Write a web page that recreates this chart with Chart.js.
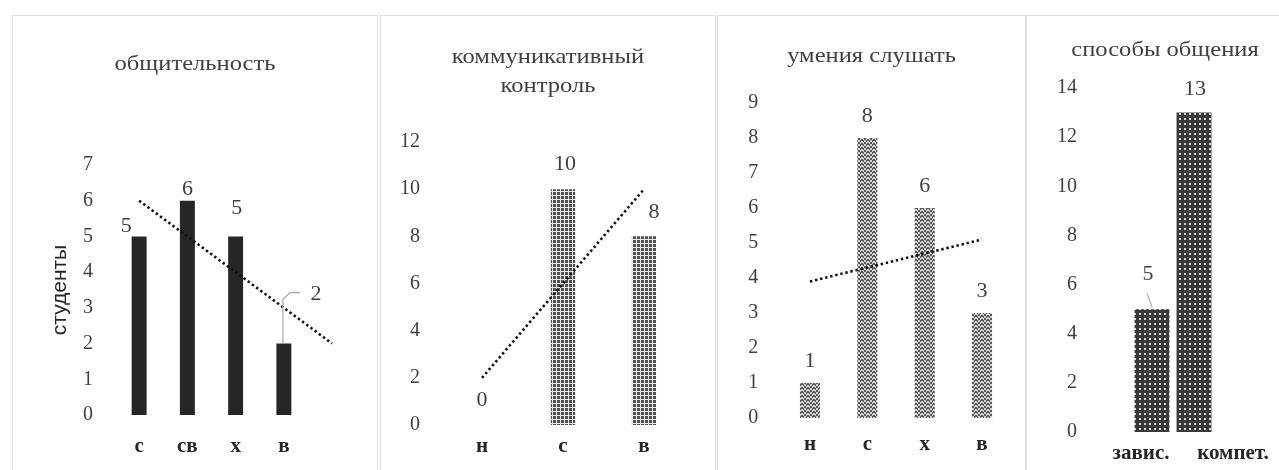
<!DOCTYPE html>
<html><head><meta charset="utf-8">
<script src="https://cdn.jsdelivr.net/npm/chart.js@4.4.1/dist/chart.umd.min.js"></script>
<style>
html,body{margin:0;padding:0;background:#fff;width:1279px;height:470px;overflow:hidden;position:relative}
.panel{position:absolute;top:15px;height:480px;border:1px solid #dedede;box-sizing:border-box;background:#fff}
.panel canvas{position:absolute;left:0;top:0}
</style></head><body>
<div class="panel" style="left:12px;width:366px"><canvas id="c1" width="364" height="454"></canvas></div>
<div class="panel" style="left:380px;width:336px"><canvas id="c2" width="334" height="454"></canvas></div>
<div class="panel" style="left:717px;width:309px"><canvas id="c3" width="307" height="454"></canvas></div>
<div class="panel" style="left:1026px;width:278px"><canvas id="c4" width="276" height="454"></canvas></div>
<script>
// ---- data ----
const title1 = ['общительность'];
const categories1 = ['с', 'св', 'х', 'в'];
const values1 = [5, 6, 5, 2];
const trendX1 = [0, 4];
const trendY1 = [6, 2];
const yMax1 = 7, yStep1 = 1;
const yTitle1 = 'студенты';

const title2 = ['коммуникативный', 'контроль'];
const categories2 = ['н', 'с', 'в'];
const values2 = [0, 10, 8];
const trendX2 = [0, 2];
const trendY2 = [2, 10];
const yMax2 = 12, yStep2 = 2;

const title3 = ['умения слушать'];
const categories3 = ['н', 'с', 'х', 'в'];
const values3 = [1, 8, 6, 3];
const trendX3 = [0, 3];
const trendY3 = [3.9, 5.1];
const yMax3 = 9, yStep3 = 1;

const title4 = ['способы общения'];
const categories4 = ['завис.', 'компет.'];
const values4 = [5, 13];
const yMax4 = 14, yStep4 = 2;

// ---- patterns ----
function tile(w, h, draw) {
  const c = document.createElement('canvas'); c.width = w; c.height = h;
  const g = c.getContext('2d'); draw(g);
  return document.createElement('canvas').getContext('2d').createPattern(c, 'repeat');
}
const patGrid = tile(4, 4, g => {
  g.fillStyle = '#505050'; g.fillRect(0, 0, 4, 4);
  g.fillStyle = '#e8e8e8'; g.fillRect(3, 0, 1, 4); g.fillRect(0, 3, 4, 1);
});
const patWave = tile(6, 4, g => {
  g.fillStyle = '#d4d4d4'; g.fillRect(0, 0, 6, 4);
  g.fillStyle = '#585858';
  g.fillRect(0, 0, 2, 1); g.fillRect(1, 1, 1, 1); g.fillRect(2, 2, 2, 1); g.fillRect(4, 1, 1, 1); g.fillRect(4, 0, 2, 1);
  g.fillRect(0, 3, 1, 1); g.fillRect(5, 3, 1, 1); g.fillRect(2, 3, 2, 1);
});
const patDots = tile(5, 5, g => {
  g.fillStyle = '#383838'; g.fillRect(0, 0, 5, 5);
  g.fillStyle = '#d8d8d8'; g.fillRect(2, 2, 2, 2);
});

// ---- plugins ----
const TXT = '#404040';
const serif = '"Liberation Serif", "Times New Roman", serif';

function stretchedText(ctx, t, x, y, sx) {
  ctx.save(); ctx.translate(x, y); ctx.scale(sx, 1); ctx.fillText(t, 0, 0); ctx.restore();
}
const panelTitle = {
  id: 'panelTitle',
  afterDraw(chart, args, opts) {
    const ctx = chart.ctx; ctx.save();
    ctx.font = opts.size + 'px ' + serif; ctx.fillStyle = TXT;
    ctx.textAlign = 'center'; ctx.textBaseline = 'middle';
    opts.lines.forEach((t, i) => stretchedText(ctx, t, chart.width / 2, opts.y + i * opts.lineGap, opts.sx));
    ctx.restore();
  }
};
const valueLabels = {
  id: 'valueLabels',
  afterDatasetsDraw(chart, args, opts) {
    const ctx = chart.ctx; ctx.save();
    ctx.font = opts.size + 'px ' + serif; ctx.fillStyle = TXT;
    ctx.textAlign = 'center'; ctx.textBaseline = 'middle';
    const meta = chart.getDatasetMeta(0);
    const vals = chart.data.datasets[0].data;
    meta.data.forEach((el, i) => {
      const dx = (opts.dx && opts.dx[i]) || 0;
      const dy = (opts.dy && opts.dy[i] != null) ? opts.dy[i] : opts.gap;
      stretchedText(ctx, String(vals[i]), el.x + dx, el.y + dy, opts.sx);
      const ld = opts.leaders && opts.leaders[i];
      if (ld) {
        ctx.beginPath(); ctx.strokeStyle = '#a6a6a6'; ctx.lineWidth = 1.2;
        ld.forEach((p, k) => k ? ctx.lineTo(el.x + p[0], el.y + p[1]) : ctx.moveTo(el.x + p[0], el.y + p[1]));
        ctx.stroke();
      }
    });
    ctx.restore();
  }
};
const shiftedXLabels = {
  id: 'shiftedXLabels',
  afterDraw(chart, args, opts) {
    if (!opts.dx) return;
    const sc = chart.scales.x, ctx = chart.ctx; ctx.save();
    ctx.font = 'bold ' + opts.size + 'px ' + serif; ctx.fillStyle = '#262626';
    ctx.textAlign = 'center'; ctx.textBaseline = 'middle';
    chart.data.labels.forEach((l, i) => ctx.fillText(l, sc.getPixelForValue(i) + opts.dx[i], opts.y));
    ctx.restore();
  }
};

// ---- chart builder ----
function build(id, o) {
  const H = 454;
  const xh = H - o.bottom - 2;
  const datasets = [{
    type: 'bar', data: o.values, backgroundColor: o.fill, borderWidth: 0, grouped: false,
    categoryPercentage: 1, barPercentage: o.barPct, order: 1, xAxisID: 'x', yAxisID: 'y'
  }];
  if (o.trendX) {
    datasets.push({
      type: 'line', xAxisID: 'xt', yAxisID: 'y', order: 0, clip: false,
      data: o.trendX.map((x, i) => ({x: x, y: o.trendY[i]})),
      borderColor: '#111', borderWidth: 2.6, borderDash: [2.4, 2.8], pointRadius: 0, fill: false, tension: 0
    });
  }
  const scales = {
    x: {
      type: 'category', offset: true,
      grid: {display: false, drawTicks: false}, border: {display: false},
      ticks: {display: !o.hideX, padding: o.xLabY - o.bottom - 12.6, color: '#262626',
              font: {family: serif, size: 21, weight: 'bold', lineHeight: 1.2}, maxRotation: 0, autoSkip: false},
      afterFit: s => { s.height = xh; }
    },
    y: {
      min: 0, max: o.yMax,
      grid: {display: false, drawTicks: false}, border: {display: false},
      ticks: {stepSize: o.yStep, padding: o.yPad, color: TXT, font: {family: serif, size: 20}},
      afterFit: s => { s.width = o.left; s.paddingTop = 14; s.paddingBottom = 14; },
      title: o.yTitle ? {display: true, text: o.yTitle, color: '#262626',
        font: {family: '"Liberation Sans", Arial, sans-serif', size: 21, lineHeight: 1.2}, padding: {top: 34.4, bottom: 0}} : {display: false}
    }
  };
  if (o.trendX) {
    scales.xt = {type: 'linear', display: false, offset: false, min: -0.5, max: o.values.length - 0.5};
  }
  const W = document.getElementById(id).width;
  return new Chart(document.getElementById(id), {
    data: {labels: o.labels, datasets: datasets},
    options: {
      responsive: false, animation: false, devicePixelRatio: 1,
      layout: {padding: {left: 0, top: o.top, right: W - o.right, bottom: 2}},
      scales: scales,
      plugins: {
        legend: {display: false}, tooltip: {enabled: false}, title: {display: false},
        panelTitle: {lines: o.title, y: o.titleY, lineGap: 29, size: 21, sx: 1.17},
        valueLabels: {size: 20, sx: 1.1, gap: o.gap, dx: o.ldx, dy: o.ldy, leaders: o.leaders},
        shiftedXLabels: {dx: o.xlabDx, y: o.xLabY, size: 21}
      }
    },
    plugins: [panelTitle, valueLabels, shiftedXLabels]
  });
}

build('c1', {
  labels: categories1, values: values1, trendX: trendX1, trendY: trendY1, yMax: yMax1, yStep: yStep1,
  yTitle: yTitle1, title: title1, titleY: 48, fill: '#262626', barPct: 0.31,
  left: 102, right: 295, top: 149, bottom: 399, yPad: 22, xLabY: 431,
  gap: -10, ldx: [-13, 0, 1, 32], ldy: [-10, -11, -28, -49],
  leaders: [null, null, null, [[-1, 0], [-1, -44], [6, -51], [16, -51]]]
});
build('c2', {
  labels: categories2, values: values2, trendX: trendX2, trendY: trendY2, yMax: yMax2, yStep: yStep2,
  title: title2, titleY: 41, fill: patGrid, barPct: 0.3,
  left: 60.5, right: 303.5, top: 126, bottom: 409, yPad: 21.5, xLabY: 431,
  gap: -24, ldx: [0, 2, 10]
});
build('c3', {
  labels: categories3, values: values3, trendX: trendX3, trendY: trendY3, yMax: yMax3, yStep: yStep3,
  title: title3, titleY: 40, fill: patWave, barPct: 0.35,
  left: 63.3, right: 292.7, top: 87, bottom: 402, yPad: 23, xLabY: 429,
  gap: -21
});
build('c4', {
  labels: categories4, values: values4, yMax: yMax4, yStep: yStep4,
  title: title4, titleY: 34, fill: patDots, barPct: 0.83,
  left: 104, right: 188, top: 72, bottom: 416, yPad: 54, xLabY: 438, hideX: true, xlabDx: [-11, 39],
  gap: -23, ldx: [-4, 1], ldy: [-34, -23],
  leaders: [[[-5, -16], [0, -2]], null]
});
</script>
</body></html>
